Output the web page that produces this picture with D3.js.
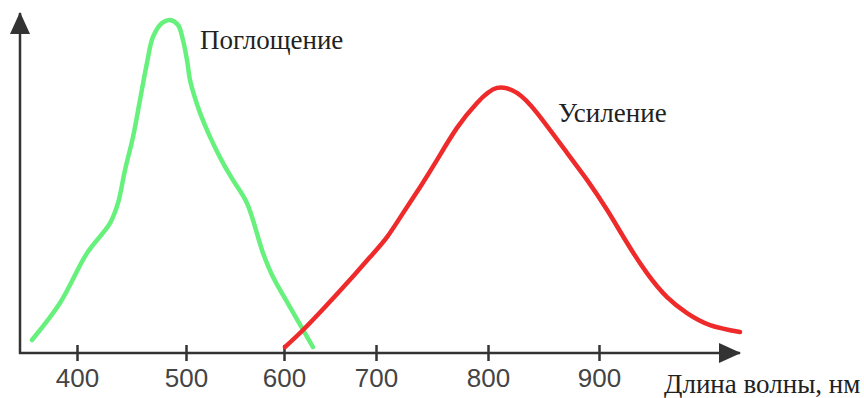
<!DOCTYPE html>
<html>
<head>
<meta charset="utf-8">
<script src="https://cdn.jsdelivr.net/npm/d3@7/dist/d3.min.js"></script>
<style>
  html, body { margin: 0; padding: 0; background: #fff; }
  svg { display: block; }
</style>
</head>
<body>
<svg id="chart" width="864" height="398"></svg>
<script>
// Wavelength ticks (nm)
const tickValues = [400, 500, 600, 700, 800, 900];

// Absorption spectrum: wavelength (nm) and relative intensity
const absorptionWl = [358.7, 384.4, 409.2, 430.3, 437.6, 444.0, 451.4, 457.8, 464.2, 469.7, 478.0, 485.3, 492.7, 497.2, 501.0, 504.1, 508.2, 514.3, 524.5, 537.8, 548.0, 562.2, 578.6, 588.8, 606.5, 631.5];
const absorptionVal = [3.9, 15.0, 30.0, 39.0, 45.0, 54.9, 64.9, 76.0, 87.1, 94.9, 99.1, 100.0, 98.5, 94.0, 88.0, 82.0, 77.5, 72.1, 64.9, 57.0, 51.9, 45.0, 30.0, 22.8, 13.8, 1.8];

// Gain spectrum: wavelength (nm) and relative intensity
const gainWl = [601.1, 620.7, 644.6, 668.5, 693.5, 709.8, 724.1, 739.3, 754.5, 772.3, 790.2, 808.1, 826.1, 844.1, 871.2, 889.2, 907.2, 925.2, 943.2, 961.3, 979.3, 1000, 1027];
const gainVal = [1.8, 6.9, 13.8, 21.0, 28.8, 34.8, 42.0, 49.8, 58.0, 67.6, 75.1, 79.6, 78.1, 72.1, 60.1, 52.0, 43.0, 33.1, 24.0, 16.8, 12.0, 8.4, 6.3];

const svg = d3.select("#chart");

// Hand-spaced wavelength axis
const x = d3.scaleLinear()
  .domain([300, 400, 500, 600, 700, 800, 900, 1000])
  .range([-32, 77, 186, 284, 376, 488, 599, 710]);
const y = d3.scaleLinear().domain([0, 100]).range([353, 20]);

const axisColor = "#333";
const originX = 20, originY = y(0);

// Arrow heads
const defs = svg.append("defs");
defs.append("marker")
  .attr("id", "arrow")
  .attr("viewBox", "0 0 22 20")
  .attr("refX", 21).attr("refY", 10)
  .attr("markerWidth", 22).attr("markerHeight", 20)
  .attr("markerUnits", "userSpaceOnUse")
  .attr("orient", "auto")
  .append("path")
  .attr("d", "M0,0 L22,10 L0,20 Z")
  .attr("fill", axisColor);

// Axis lines
svg.append("line")
  .attr("x1", originX).attr("y1", originY + 1)
  .attr("x2", originX).attr("y2", 13)
  .attr("stroke", axisColor).attr("stroke-width", 2.5)
  .attr("marker-end", "url(#arrow)");
svg.append("line")
  .attr("x1", originX - 1).attr("y1", originY)
  .attr("x2", 740).attr("y2", originY)
  .attr("stroke", axisColor).attr("stroke-width", 2.5)
  .attr("marker-end", "url(#arrow)");

// Ticks and labels
const xAxis = d3.axisBottom(x).tickValues(tickValues).tickSizeInner(8).tickSizeOuter(0).tickPadding(8);
const gx = svg.append("g").attr("transform", `translate(0,${originY})`).call(xAxis);
gx.select(".domain").remove();
gx.selectAll(".tick line")
  .attr("y1", -8)
  .attr("stroke", axisColor).attr("stroke-width", 2.5);
gx.selectAll(".tick text")
  .attr("font-family", "Liberation Sans, Arial, sans-serif")
  .attr("font-size", 26)
  .attr("fill", "#444");

// Curves
const absorptionLine = d3.line()
  .x(d => x(d[0]))
  .y(d => y(d[1]))
  .curve(d3.curveCatmullRom.alpha(0.5));

const gainLine = d3.line()
  .x(d => x(d[0]))
  .y(d => y(d[1]))
  .curve(d3.curveNatural);

svg.append("path")
  .datum(d3.zip(absorptionWl, absorptionVal))
  .attr("d", absorptionLine)
  .attr("fill", "none")
  .attr("stroke", "#66f07c")
  .attr("stroke-width", 4.5)
  .attr("stroke-linecap", "round");

svg.append("path")
  .datum(d3.zip(gainWl, gainVal))
  .attr("d", gainLine)
  .attr("fill", "none")
  .attr("stroke", "#ee2a2a")
  .attr("stroke-width", 4.5)
  .attr("stroke-linecap", "round");

// Labels
const serif = "Liberation Serif, Times New Roman, serif";
svg.append("text")
  .attr("x", 200).attr("y", 49)
  .attr("font-family", serif).attr("font-size", 27).attr("fill", "#222")
  .text("Поглощение");
svg.append("text")
  .attr("x", 558).attr("y", 122)
  .attr("font-family", serif).attr("font-size", 27).attr("fill", "#222")
  .text("Усиление");
svg.append("text")
  .attr("x", 664).attr("y", 393)
  .attr("font-family", serif).attr("font-size", 27).attr("fill", "#222")
  .text("Длина волны, нм");
</script>
</body>
</html>
